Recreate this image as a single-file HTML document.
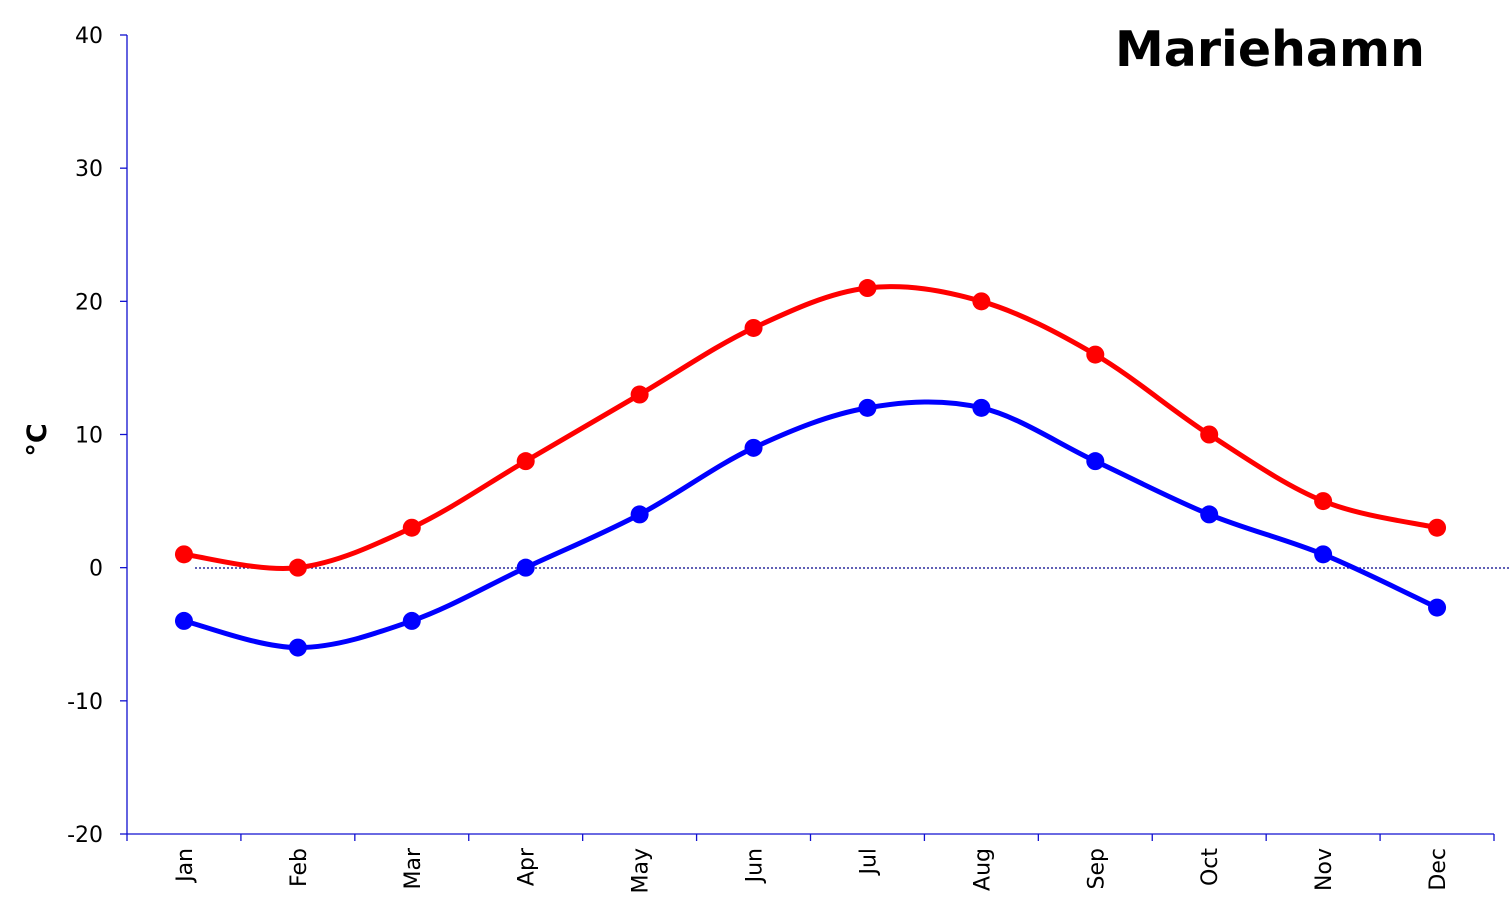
<!DOCTYPE html>
<html><head><meta charset="utf-8"><style>
body{margin:0;background:#fff;}
svg{display:block;font-family:"DejaVu Sans","Liberation Sans",sans-serif;}
</style></head><body>
<svg id="c" width="1510" height="921" xmlns="http://www.w3.org/2000/svg">
<text x="1270" y="66" font-size="49" font-weight="bold" text-anchor="middle">Mariehamn</text>
<text transform="translate(46,440) rotate(-90)" font-size="27" font-weight="bold" text-anchor="middle">°C</text>
<line x1="195" y1="568" x2="1510" y2="568" stroke="#00008b" stroke-width="1.3" stroke-dasharray="2,2"/>
<g id="ax" stroke="#1010d0" stroke-width="1.3" fill="none"></g>
<g id="lab" font-size="22" fill="#000"></g>
<g id="ser"></g>
</svg>
<script>
const ax=document.getElementById('ax'),lab=document.getElementById('lab'),ser=document.getElementById('ser');
const NS='http://www.w3.org/2000/svg';
function el(p,t,a,txt){const e=document.createElementNS(NS,t);for(const k in a)e.setAttribute(k,a[k]);if(txt!=null)e.textContent=txt;p.appendChild(e);return e;}
const x0=127,x1=1494,yT=35,yB=834;
const Y=v=>yB-(v+20)*(yB-yT)/60;
const cw=(x1-x0)/12;const X=i=>x0+cw*(i+0.5);
el(ax,'line',{x1:x0,y1:yT,x2:x0,y2:yB});
el(ax,'line',{x1:x0,y1:yB,x2:x1,y2:yB});
for(let v=-20;v<=40;v+=10){el(ax,'line',{x1:x0-7,y1:Y(v),x2:x0,y2:Y(v)});
el(lab,'text',{x:103,y:Y(v)+8,'text-anchor':'end'},String(v));}
const m=['Jan','Feb','Mar','Apr','May','Jun','Jul','Aug','Sep','Oct','Nov','Dec'];
for(let i=0;i<=12;i++)el(ax,'line',{x1:x0+cw*i,y1:yB,x2:x0+cw*i,y2:yB+7});
m.forEach((s,i)=>el(lab,'text',{transform:`translate(${X(i)+8},848) rotate(-90)`,'text-anchor':'end'},s));
function draw(d,c){const p=d.map((v,i)=>[X(i),Y(v)]);let s=`M${p[0][0]},${p[0][1]}`;
for(let i=0;i<p.length-1;i++){const a=p[i-1]||p[i],b=p[i],cc=p[i+1],dd=p[i+2]||cc;
s+=` C${b[0]+(cc[0]-a[0])/6},${b[1]+(cc[1]-a[1])/6} ${cc[0]-(dd[0]-b[0])/6},${cc[1]-(dd[1]-b[1])/6} ${cc[0]},${cc[1]}`;}
el(ser,'path',{d:s,fill:'none',stroke:c,'stroke-width':5});
p.forEach(q=>el(ser,'circle',{cx:q[0],cy:q[1],r:9,fill:c}));}
draw([1,0,3,8,13,18,21,20,16,10,5,3],'#ff0000');
draw([-4,-6,-4,0,4,9,12,12,8,4,1,-3],'#0000ff');
</script>
</body></html>
